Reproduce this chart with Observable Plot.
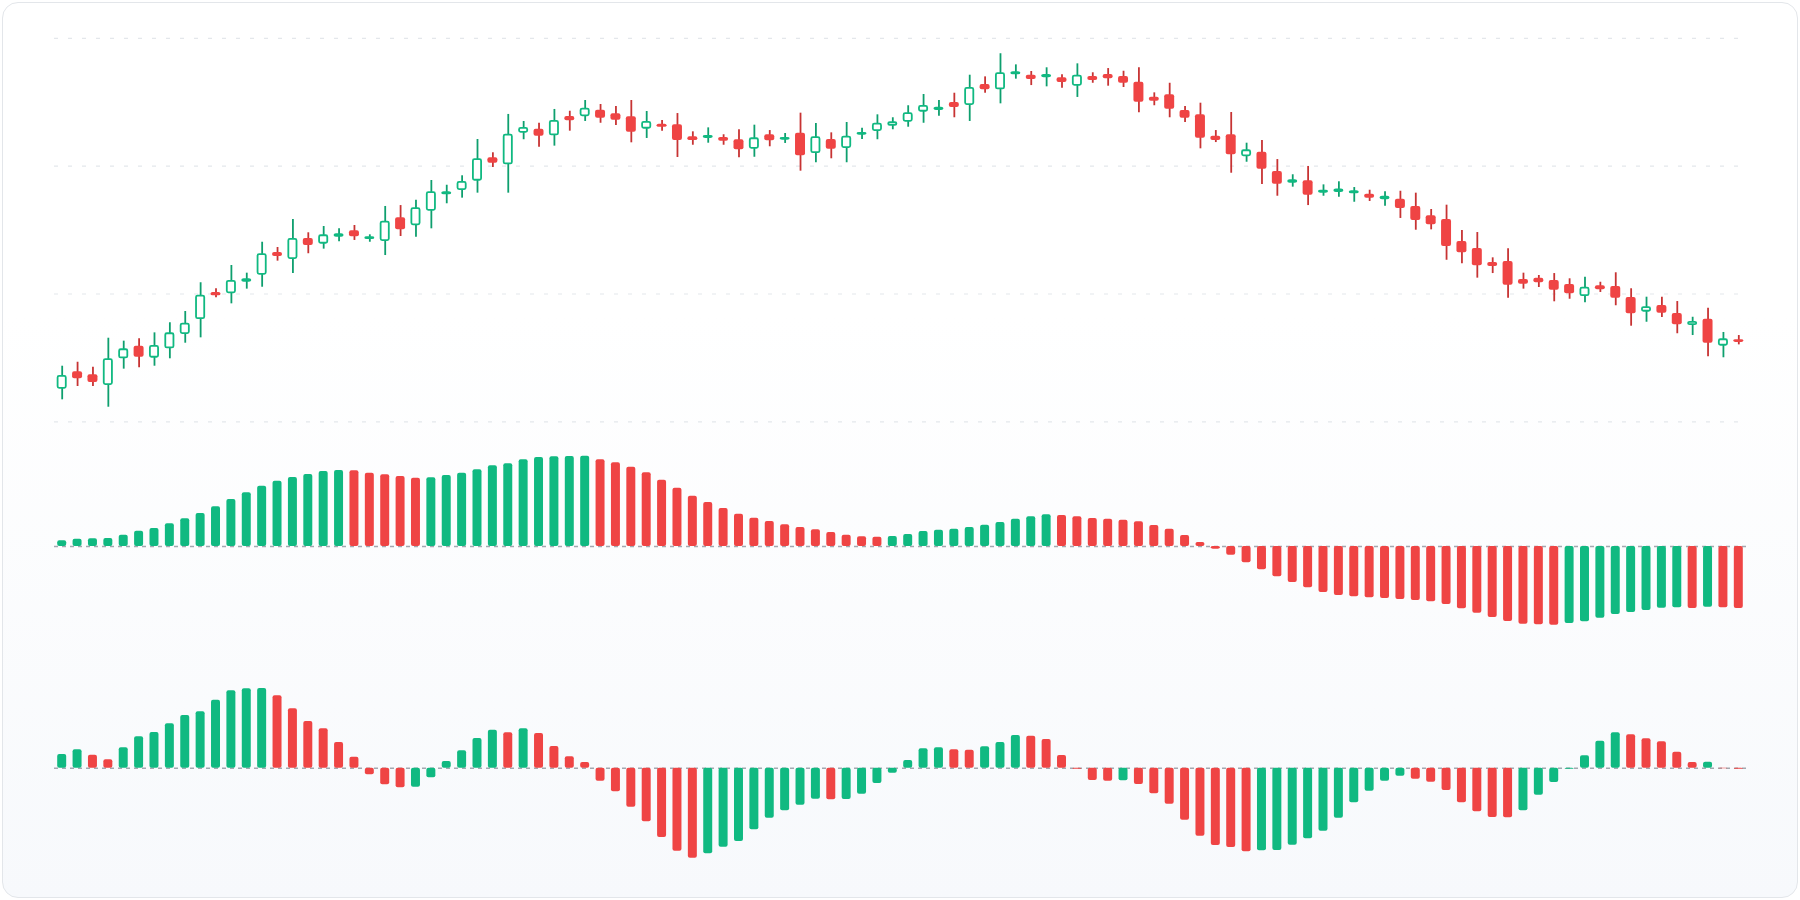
<!DOCTYPE html>
<html>
<head>
<meta charset="utf-8">
<script src="https://cdn.jsdelivr.net/npm/d3@7"></script>
<script src="https://cdn.jsdelivr.net/npm/@observablehq/plot@0.6"></script>
<style>
  html, body { margin: 0; padding: 0; background: #ffffff; width: 1800px; height: 900px; overflow: hidden; font-family: Inter, "Noto Sans", sans-serif; }
  #wrap { position: relative; width: 1800px; height: 900px; }
  #card { position: absolute; left: 2px; top: 2px; width: 1796px; height: 896px; box-sizing: border-box;
          border: 1.5px solid #e3e6ea; border-radius: 16px;
          background: linear-gradient(180deg, #ffffff 0%, #ffffff 35%, #f7f9fc 100%); }
  .panel { position: absolute; left: 0; }
</style>
</head>
<body>
<div id="wrap"><div id="card"></div></div>
<script>
// ---- Price series (OHLC), 110 sessions ----
const open = [102.55,103.91,103.68,102.84,104.93,105.92,104.98,105.71,106.83,108.00,
  110.12,110.02,110.92,111.47,113.25,112.70,114.34,113.90,114.44,114.95,
  114.26,114.11,115.96,115.34,116.48,117.76,118.10,118.83,120.66,120.11,
  122.58,122.90,122.38,123.89,123.87,124.38,124.10,123.87,122.90,123.29,
  123.24,122.30,122.17,122.25,122.07,121.33,122.46,122.03,122.58,120.99,
  122.09,121.39,122.43,122.72,123.13,123.44,124.23,124.36,124.98,124.75,
  126.39,125.98,127.15,127.12,126.92,126.92,126.26,127.02,127.18,127.02,
  126.57,125.40,125.59,124.36,124.02,122.35,122.46,120.74,121.10,119.59,
  118.67,118.86,117.89,117.94,117.84,117.81,117.37,117.42,116.85,116.12,
  115.83,114.11,113.56,112.46,112.54,111.13,111.24,111.06,110.74,109.80,
  110.64,110.59,109.73,108.58,109.10,108.47,107.54,108.03,105.92,106.42];
const high = [104.35,104.66,104.27,106.54,106.31,106.49,106.96,107.75,108.63,110.88,
  110.41,112.23,111.63,114.05,113.64,115.83,114.79,115.28,115.10,115.36,
  114.63,116.85,116.92,117.34,118.88,118.51,119.25,122.09,121.05,124.05,
  123.50,123.36,124.44,124.30,125.14,124.83,124.67,125.14,124.28,123.58,
  124.12,122.69,123.00,122.46,122.85,123.21,122.79,122.56,124.15,123.34,
  122.61,123.42,122.97,124.02,123.79,124.73,125.61,125.14,125.71,127.12,
  126.99,128.80,127.93,127.41,127.70,127.15,128.01,127.31,127.64,127.43,
  127.70,125.74,126.49,124.67,124.93,122.79,124.20,121.80,122.01,120.52,
  119.33,119.98,118.54,118.78,118.33,118.12,118.00,118.04,117.89,116.61,
  116.95,114.97,114.81,112.83,113.54,111.63,111.45,111.60,111.19,111.31,
  110.92,111.66,110.41,109.75,109.75,109.41,108.18,108.89,106.99,106.75];
const low = [101.72,102.76,102.76,101.14,104.12,104.23,104.35,104.93,106.15,106.57,
  109.70,109.23,110.38,110.53,112.57,111.60,113.15,113.51,114.08,114.19,
  114.05,113.01,114.50,114.44,115.10,117.06,117.50,117.89,119.90,117.89,
  122.07,121.49,121.57,122.74,123.50,123.36,123.18,121.83,122.17,122.74,
  120.68,121.64,121.80,121.64,120.66,120.70,121.52,121.78,119.61,120.27,
  120.58,120.27,122.09,122.07,122.85,123.05,123.36,123.91,123.79,123.50,
  125.71,124.88,126.81,126.31,126.21,126.10,125.38,126.49,126.26,126.16,
  124.18,124.73,123.79,123.42,121.36,121.85,119.45,120.31,118.57,117.65,
  118.36,116.92,117.65,117.57,117.18,117.24,116.87,115.91,114.99,115.02,
  112.64,112.36,111.24,111.60,109.67,110.38,110.51,109.39,109.59,109.31,
  110.12,109.08,107.48,107.79,108.16,106.89,106.75,105.09,105.01,106.02];
const close = [103.62,103.36,103.08,104.93,105.71,105.05,105.97,106.96,107.72,109.91,
  109.86,111.06,111.19,113.15,112.93,114.34,113.80,114.63,114.71,114.48,
  114.48,115.70,115.02,116.75,118.00,118.00,118.80,120.58,120.23,122.50,
  123.03,122.35,123.58,123.55,124.54,123.76,123.60,122.66,123.50,123.05,
  122.01,122.01,122.40,121.96,121.28,122.22,121.99,122.25,120.81,122.30,
  121.33,122.35,122.64,123.36,123.47,124.18,124.75,124.62,124.59,126.16,
  125.98,127.31,127.39,126.78,127.18,126.55,127.12,126.71,126.84,126.49,
  125.01,125.09,124.46,123.76,122.19,122.01,120.89,121.28,119.77,118.59,
  118.94,117.73,118.12,118.22,118.08,117.50,117.65,116.69,115.75,115.41,
  113.72,113.22,112.21,112.15,110.69,110.77,110.88,110.30,110.02,110.53,
  110.33,109.67,108.45,109.00,108.50,107.59,107.85,106.15,106.49,106.21];

// ---- Oscillator histograms ----
const trendHist = [0.17,0.22,0.23,0.24,0.34,0.46,0.54,0.68,0.83,0.99,
  1.19,1.41,1.61,1.81,1.96,2.07,2.16,2.25,2.28,2.27,
  2.20,2.15,2.10,2.05,2.06,2.13,2.20,2.30,2.42,2.48,
  2.60,2.67,2.69,2.70,2.71,2.60,2.51,2.38,2.21,1.99,
  1.75,1.51,1.32,1.14,0.97,0.85,0.75,0.65,0.57,0.50,
  0.42,0.34,0.29,0.28,0.30,0.36,0.45,0.49,0.52,0.57,
  0.64,0.72,0.82,0.89,0.95,0.93,0.89,0.84,0.82,0.79,
  0.74,0.63,0.52,0.33,0.12,-0.08,-0.26,-0.49,-0.70,-0.91,
  -1.08,-1.24,-1.38,-1.47,-1.51,-1.54,-1.56,-1.59,-1.62,-1.66,
  -1.74,-1.87,-2.00,-2.13,-2.25,-2.33,-2.35,-2.36,-2.31,-2.26,
  -2.15,-2.04,-1.98,-1.92,-1.85,-1.84,-1.86,-1.82,-1.84,-1.86];
const momentumHist = [0.41,0.55,0.39,0.25,0.61,0.94,1.07,1.33,1.58,1.69,
  2.04,2.32,2.38,2.39,2.17,1.78,1.40,1.18,0.77,0.33,
  -0.20,-0.50,-0.59,-0.57,-0.29,0.20,0.52,0.89,1.14,1.06,
  1.18,1.04,0.65,0.34,0.17,-0.39,-0.71,-1.17,-1.61,-2.08,
  -2.49,-2.70,-2.57,-2.37,-2.20,-1.85,-1.50,-1.28,-1.11,-0.93,
  -0.95,-0.94,-0.78,-0.46,-0.15,0.23,0.58,0.61,0.55,0.54,
  0.64,0.77,0.98,0.96,0.86,0.38,-0.03,-0.37,-0.39,-0.38,
  -0.49,-0.77,-1.08,-1.56,-2.04,-2.32,-2.38,-2.51,-2.48,-2.47,
  -2.31,-2.12,-1.89,-1.50,-1.04,-0.69,-0.39,-0.24,-0.33,-0.42,
  -0.67,-1.04,-1.31,-1.48,-1.49,-1.28,-0.81,-0.43,-0.03,0.37,
  0.81,1.06,1.00,0.88,0.79,0.48,0.17,0.18,-0.02,-0.03];
const priceTicks = [100, 110, 120, 130];

const UP = "#10b981", DOWN = "#ef4444", UP_WICK = "#0e9f6e", DOWN_WICK = "#c73333";
const W = 1800, ML = 54, MR = 54;
const idx = d3.range(open.length);

const candles = idx.map(i => ({i, open: open[i], high: high[i], low: low[i], close: close[i], up: close[i] >= open[i]}));
const upC = candles.filter(d => d.up), dnC = candles.filter(d => !d.up);

function histData(vals) {
  return vals.map((v, i) => ({i, v, up: i === 0 || v > vals[i - 1]}));
}

const xScale = {type: "band", domain: idx, padding: 0, axis: null};
const wrap = document.getElementById("wrap");

function place(svg, top) {
  svg.classList.add("panel");
  svg.style.top = top + "px";
  wrap.appendChild(svg);
}

// Candlestick panel
const cH = 440;
const candlePlot = Plot.plot({
  width: W, height: cH,
  marginLeft: ML, marginRight: MR, marginTop: 37.9, marginBottom: cH - 421.3,
  style: {background: "transparent", overflow: "visible"},
  x: xScale,
  y: {domain: [100, 130], axis: null},
  marks: [
    Plot.ruleY(priceTicks, {stroke: "#e4e7eb", strokeWidth: 1.2, strokeDasharray: "4,10"}),
    Plot.ruleX(upC, {x: "i", y1: "low", y2: "high", stroke: UP_WICK, strokeWidth: 1.8}),
    Plot.ruleX(dnC, {x: "i", y1: "low", y2: "high", stroke: DOWN_WICK, strokeWidth: 1.8}),
    Plot.barY(upC, {x: "i", y1: "open", y2: "close", fill: "#ffffff", stroke: UP, strokeWidth: 1.8,
      insetLeft: 3.6, insetRight: 3.6, insetTop: 0.9, insetBottom: 0.9, rx: 1.5}),
    Plot.barY(dnC, {x: "i", y1: "open", y2: "close", fill: DOWN,
      insetLeft: 2.7, insetRight: 2.7, rx: 2})
  ]
});
place(candlePlot, 0);

function histPlot(vals, top, h, mt, mb) {
  const data = histData(vals);
  const p = Plot.plot({
    width: W, height: h,
    marginLeft: ML, marginRight: MR, marginTop: mt, marginBottom: mb,
    style: {background: "transparent", overflow: "visible"},
    x: xScale,
    y: {domain: [-3, 3], axis: null},
    marks: [
      Plot.ruleY([0], {stroke: "#a3a8b0", strokeWidth: 1.4, strokeDasharray: "4,4"}),
      Plot.barY(data.filter(d => d.up), {x: "i", y: "v", fill: UP, insetLeft: 3.2, insetRight: 3.2, rx: 2}),
      Plot.barY(data.filter(d => !d.up), {x: "i", y: "v", fill: DOWN, insetLeft: 3.2, insetRight: 3.2, rx: 2})
    ]
  });
  place(p, top);
}
histPlot(trendHist, 440, 210, 6, 4);
histPlot(momentumHist, 660, 220, 7.7, 12.3);
</script>
</body>
</html>
